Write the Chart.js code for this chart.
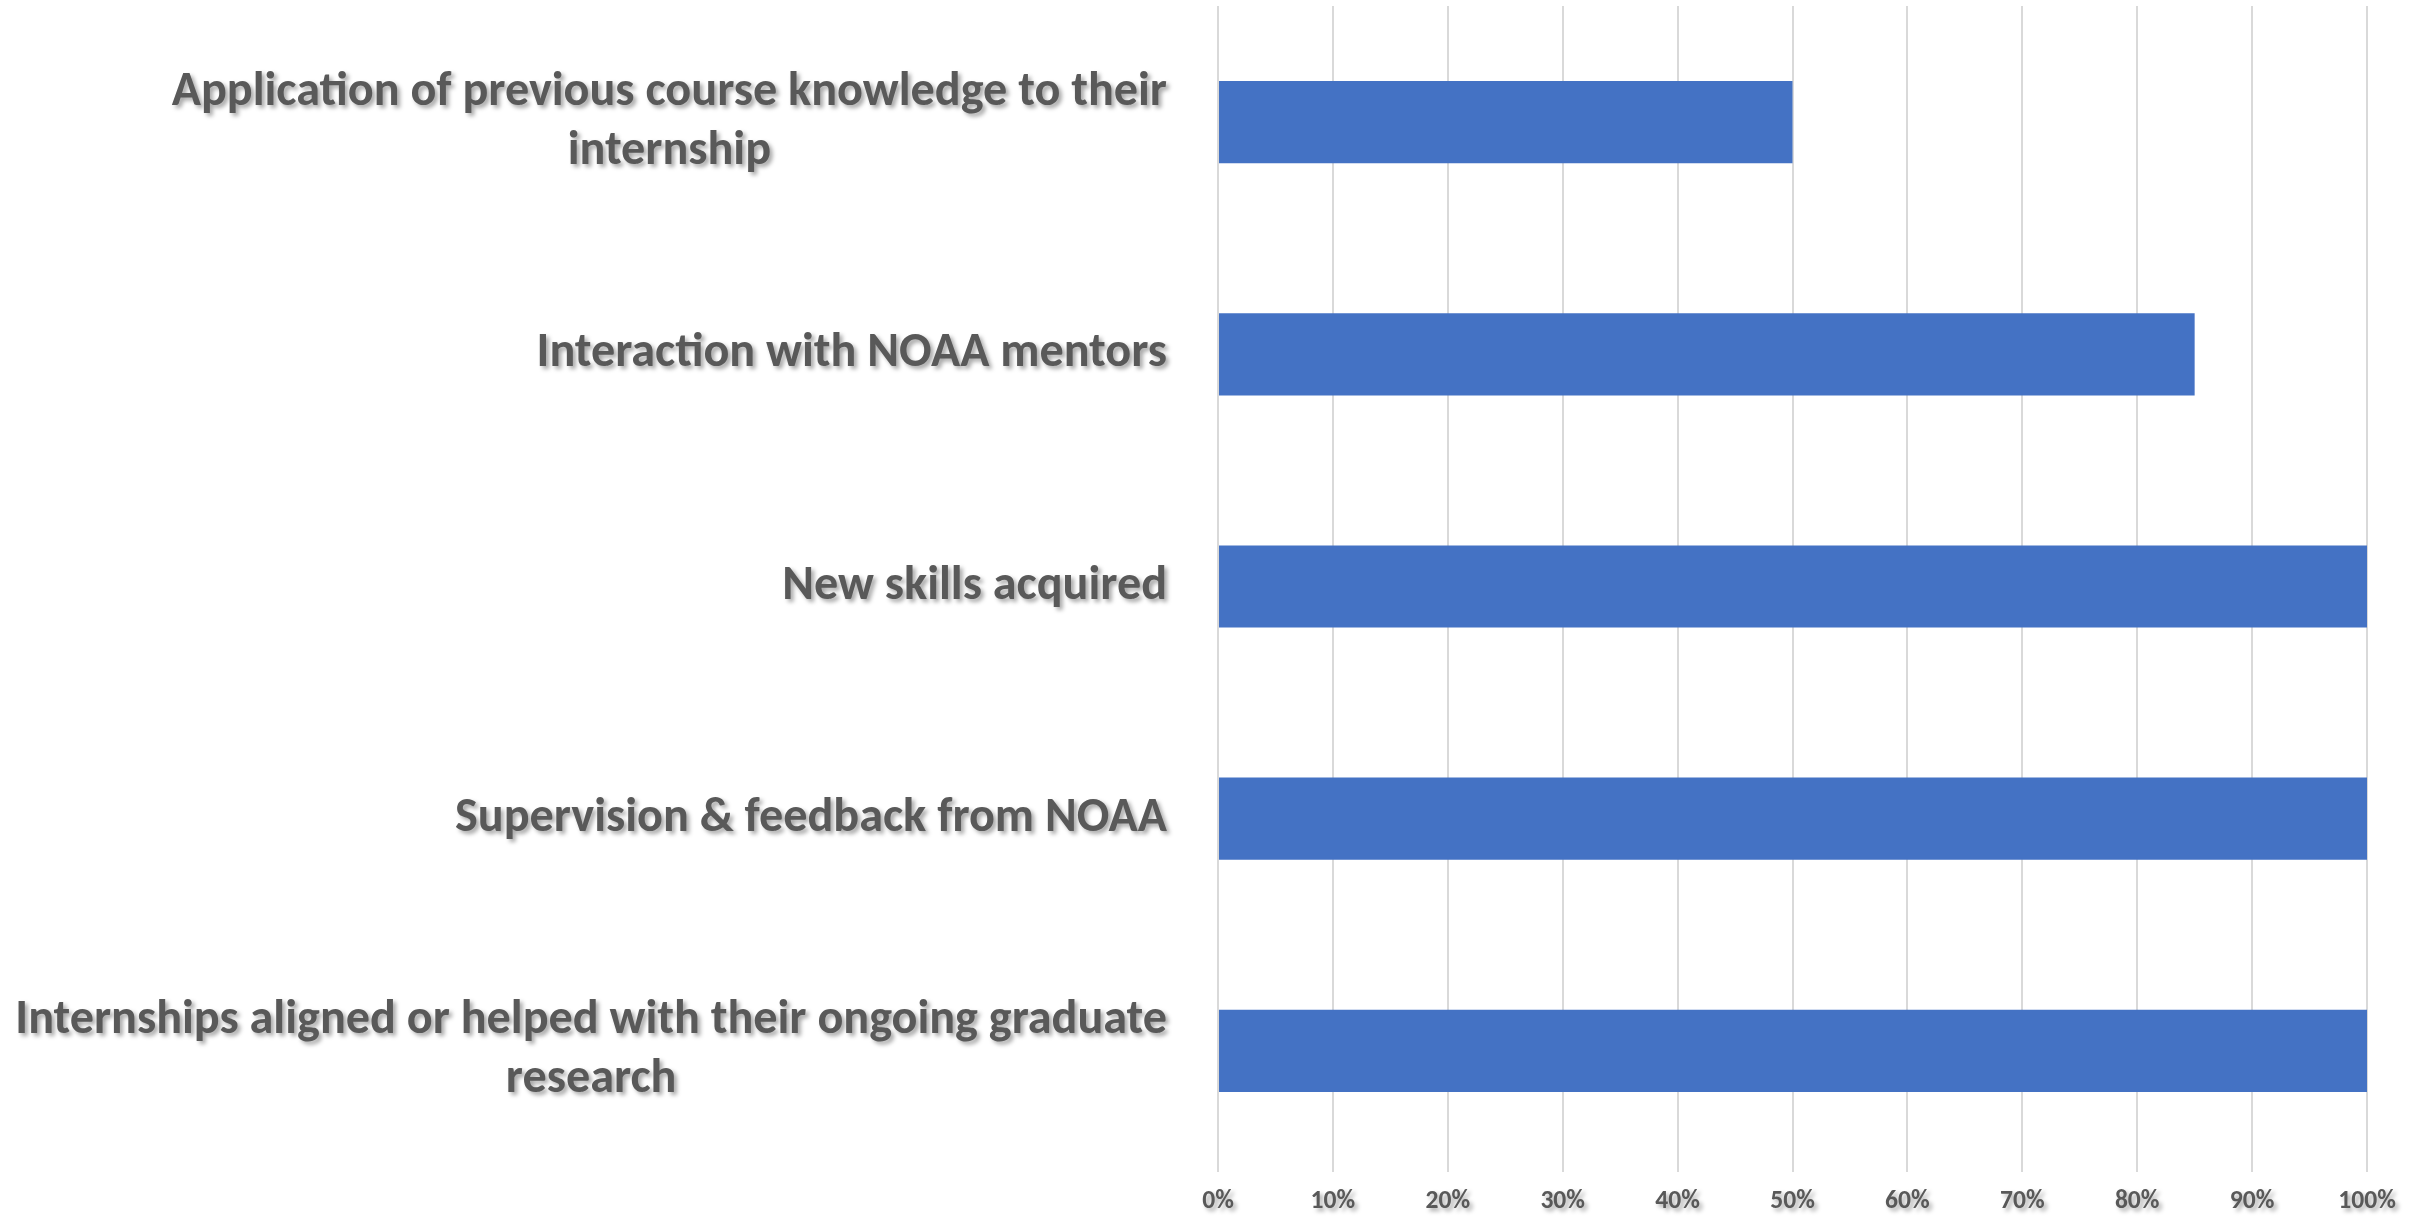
<!DOCTYPE html>
<html>
<head>
<meta charset="utf-8">
<script src="https://cdn.jsdelivr.net/npm/chart.js@4/dist/chart.umd.min.js"></script>
<style>
  html, body { margin: 0; padding: 0; background: #fff; }
  #wrap { width: 2427px; height: 1218px; position: relative; }
</style>
</head>
<body>
<div id="wrap"><canvas id="bar-chart"></canvas></div>
<script>
// categories, top to bottom
const categories = [
  ['Application of previous course knowledge to their', 'internship'],
  ['Interaction with NOAA mentors'],
  ['New skills acquired'],
  ['Supervision & feedback from NOAA'],
  ['Internships aligned or helped with their ongoing graduate', 'research']
];
const percentValues = [50, 85, 100, 100, 100];
const tickValues = [0, 10, 20, 30, 40, 50, 60, 70, 80, 90, 100];

const textColor = '#595959';
const fontFamily = "Carlito, 'Liberation Sans Narrow', 'DejaVu Sans Condensed', 'Open Sans', sans-serif";

// draws the labels with a soft shadow, positions come from the scales
const shadowLabels = {
  id: 'shadowLabels',
  afterDraw(chart) {
    const ctx = chart.ctx;
    const x = chart.scales.x;
    const y = chart.scales.y;

    // fit the font so the longest line is about as wide as in the original
    ctx.font = 'bold 48px ' + fontFamily;
    const longest = ctx.measureText(categories[4][0]).width;
    const k = Math.min(1.15, 1152 / longest);
    const labelSize = 48 * k;
    const tickSize = 25.5 * k;
    const lineH = 59;
    const rightEdge = 1167;

    ctx.save();
    ctx.fillStyle = textColor;
    ctx.shadowColor = 'rgba(0, 0, 0, 0.35)';
    ctx.shadowOffsetX = 3;
    ctx.shadowOffsetY = 3;
    ctx.shadowBlur = 4;
    ctx.textBaseline = 'middle';
    ctx.textAlign = 'center';

    ctx.font = 'bold ' + labelSize + 'px ' + fontFamily;
    categories.forEach((lines, i) => {
      const cy = y.getPixelForValue(i);
      const w = Math.max(...lines.map(l => ctx.measureText(l).width));
      const cx = rightEdge - w / 2;
      const y0 = cy - (lines.length - 1) * lineH / 2;
      lines.forEach((l, j) => ctx.fillText(l, cx, y0 + j * lineH));
    });

    ctx.font = 'bold ' + tickSize + 'px ' + fontFamily;
    tickValues.forEach(v => {
      ctx.fillText(v + '%', x.getPixelForValue(v), 1202);
    });
    ctx.restore();
  }
};

const data = {
  labels: categories,
  datasets: [{
    data: percentValues,
    backgroundColor: '#4472C4',
    borderWidth: 0,
    categoryPercentage: 1,
    barPercentage: 0.354
  }]
};

const options = {
  indexAxis: 'y',
  responsive: true,
  maintainAspectRatio: false,
  animation: false,
  layout: { padding: { top: 6, right: 60, bottom: 0, left: 0 } },
  plugins: {
    legend: { display: false },
    tooltip: { enabled: false }
  },
  scales: {
    x: {
      min: 0,
      max: 100,
      ticks: { display: false, stepSize: 10 },
      grid: { color: '#d9d9d9', lineWidth: 2, drawTicks: true, tickLength: 5 },
      border: { display: false },
      afterFit: (scale) => { scale.height = 51; }
    },
    y: {
      ticks: { display: false },
      grid: { display: false },
      border: { display: false },
      afterFit: (scale) => { scale.width = 1218; }
    }
  }
};

new Chart(document.getElementById('bar-chart'), {
  type: 'bar',
  data: data,
  options: options,
  plugins: [shadowLabels]
});
</script>
</body>
</html>
